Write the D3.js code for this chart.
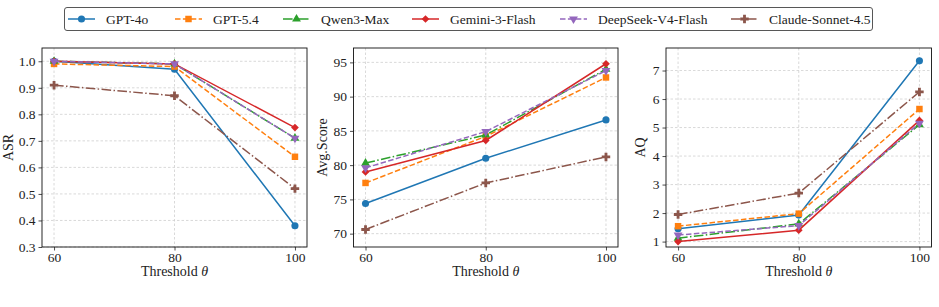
<!DOCTYPE html>
<html>
<head>
<meta charset="utf-8">
<script src="https://cdn.jsdelivr.net/npm/d3@7"></script>
<style>
  body { margin: 0; background: #fff; }
  svg { display: block; font-family: "Liberation Serif", "Times New Roman", "DejaVu Serif", serif; }
</style>
</head>
<body>
<div id="chart"></div>
<script>
// data
const thresholds = [60, 80, 100];
const models = ["GPT-4o", "GPT-5.4", "Qwen3-Max", "Gemini-3-Flash", "DeepSeek-V4-Flash", "Claude-Sonnet-4.5"];

const asr = {
  "GPT-4o": [1.0, 0.97, 0.38],
  "GPT-5.4": [0.99, 0.98, 0.64],
  "Qwen3-Max": [1.0, 0.99, 0.71],
  "Gemini-3-Flash": [1.0, 0.99, 0.75],
  "DeepSeek-V4-Flash": [1.0, 0.99, 0.71],
  "Claude-Sonnet-4.5": [0.91, 0.87, 0.52]
};
const avgScore = {
  "GPT-4o": [74.4, 81.0, 86.6],
  "GPT-5.4": [77.4, 84.2, 92.8],
  "Qwen3-Max": [80.3, 84.4, 94.0],
  "Gemini-3-Flash": [79.0, 83.6, 94.8],
  "DeepSeek-V4-Flash": [79.6, 84.9, 93.8],
  "Claude-Sonnet-4.5": [70.6, 77.4, 81.2]
};
const aq = {
  "GPT-4o": [1.45, 1.93, 7.34],
  "GPT-5.4": [1.54, 1.98, 5.65],
  "Qwen3-Max": [1.12, 1.62, 5.10],
  "Gemini-3-Flash": [1.0, 1.4, 5.25],
  "DeepSeek-V4-Flash": [1.23, 1.56, 5.15],
  "Claude-Sonnet-4.5": [1.95, 2.70, 6.25]
};

const asrTicks = [0.3, 0.4, 0.5, 0.6, 0.7, 0.8, 0.9, 1.0];
const scoreTicks = [70, 75, 80, 85, 90, 95];
const aqTicks = [1, 2, 3, 4, 5, 6, 7];

// styles
const colors = ["#1f77b4", "#ff7f0e", "#2ca02c", "#d62728", "#9467bd", "#8c564b"];
const dashes = ["none", "5.5,2.4", "9.6,2.4,1.5,2.4", "none", "5.5,2.4", "9.6,2.4,1.5,2.4"];
const symbols = [
  { type: d3.symbolCircle, size: 40, rot: 0 },
  { type: d3.symbolSquare, size: 42, rot: 0 },
  { type: d3.symbolTriangle, size: 34, rot: 0 },
  { type: d3.symbolSquare, size: 30, rot: 45 },
  { type: d3.symbolTriangle, size: 34, rot: 180 },
  { type: d3.symbolCross, size: 40, rot: 0 }
];

const W = 939, H = 307;
const svg = d3.select("#chart").append("svg").attr("width", W).attr("height", H);

const panels = [
  { data: asr, label: "ASR", ticks: asrTicks, domain: [0.3, 1.05], fmt: d3.format(".1f"), x0: 42, x1: 307, labOff: 29 },
  { data: avgScore, label: "Avg.Score", ticks: scoreTicks, domain: [68.05, 97.1], fmt: d3.format("d"), x0: 353.5, x1: 618, labOff: 27 },
  { data: aq, label: "AQ", ticks: aqTicks, domain: [0.81, 7.79], fmt: d3.format("d"), x0: 666, x1: 931.5, labOff: 21 }
];
const plotTop = 48, plotBottom = 247;

panels.forEach(function (p) {
  const g = svg.append("g");
  const x = d3.scaleLinear().domain([58, 102]).range([p.x0, p.x1]);
  const y = d3.scaleLinear().domain(p.domain).range([plotBottom, plotTop]);

  // grid
  g.append("g").selectAll("line").data(thresholds).enter().append("line")
    .attr("x1", d => x(d)).attr("x2", d => x(d))
    .attr("y1", plotTop).attr("y2", plotBottom)
    .attr("stroke", "#cfcfcf").attr("stroke-width", 0.8).attr("stroke-dasharray", "2.5,2");
  g.append("g").selectAll("line").data(p.ticks).enter().append("line")
    .attr("x1", p.x0).attr("x2", p.x1)
    .attr("y1", d => y(d)).attr("y2", d => y(d))
    .attr("stroke", "#cfcfcf").attr("stroke-width", 0.8).attr("stroke-dasharray", "2.5,2");

  // axes
  const xa = g.append("g").attr("transform", "translate(0," + plotBottom + ")")
    .call(d3.axisBottom(x).tickValues(thresholds).tickSize(3.5).tickSizeOuter(0).tickPadding(2));
  const ya = g.append("g").attr("transform", "translate(" + p.x0 + ",0)")
    .call(d3.axisLeft(y).tickValues(p.ticks).tickFormat(p.fmt).tickSize(3.5).tickSizeOuter(0).tickPadding(3));
  [xa, ya].forEach(a => {
    a.select(".domain").remove();
    a.selectAll("text").attr("font-size", "13.5px").attr("fill", "#222")
      .attr("font-family", "'Liberation Serif', 'Times New Roman', serif");
    a.selectAll("line").attr("stroke", "#222").attr("stroke-width", 0.8);
  });

  // lines and markers
  models.forEach(function (m, i) {
    const pts = thresholds.map((t, j) => [t, p.data[m][j]]);
    g.append("path")
      .datum(pts)
      .attr("fill", "none")
      .attr("stroke", colors[i])
      .attr("stroke-width", 1.5)
      .attr("stroke-dasharray", dashes[i])
      .attr("d", d3.line().x(d => x(d[0])).y(d => y(d[1])));
    const s = symbols[i];
    g.append("g").selectAll("path").data(pts).enter().append("path")
      .attr("d", d3.symbol().type(s.type).size(s.size))
      .attr("transform", d => "translate(" + x(d[0]) + "," + y(d[1]) + ") rotate(" + s.rot + ")")
      .attr("fill", colors[i]);
  });

  // frame
  g.append("rect")
    .attr("x", p.x0).attr("y", plotTop)
    .attr("width", p.x1 - p.x0).attr("height", plotBottom - plotTop)
    .attr("fill", "none").attr("stroke", "#111").attr("stroke-width", 0.9);

  // labels
  const xl = g.append("text")
    .attr("x", (p.x0 + p.x1) / 2).attr("y", 276)
    .attr("text-anchor", "middle").attr("font-size", "14px").attr("fill", "#222");
  xl.append("tspan").text("Threshold ");
  xl.append("tspan").attr("font-style", "italic").text("θ");

  g.append("text")
    .attr("transform", "translate(" + (p.x0 - p.labOff) + "," + ((plotTop + plotBottom) / 2) + ") rotate(-90)")
    .attr("text-anchor", "middle").attr("font-size", "14px").attr("fill", "#222")
    .text(p.label);
});

// legend
const legend = svg.append("g");
legend.append("rect")
  .attr("x", 64.5).attr("y", 7.5).attr("width", 808).attr("height", 23).attr("rx", 2.5)
  .attr("fill", "#fff").attr("stroke", "#444").attr("stroke-width", 0.9);
const legX = [68, 175, 283, 412, 560, 731];
models.forEach(function (m, i) {
  const lg = legend.append("g").attr("transform", "translate(" + legX[i] + ",19)");
  lg.append("line").attr("x1", 0).attr("x2", 27).attr("y1", 0).attr("y2", 0)
    .attr("stroke", colors[i]).attr("stroke-width", 1.5).attr("stroke-dasharray", dashes[i]);
  const s = symbols[i];
  lg.append("path").attr("d", d3.symbol().type(s.type).size(s.size))
    .attr("transform", "translate(13.5,0) rotate(" + s.rot + ")")
    .attr("fill", colors[i]);
  lg.append("text").attr("x", 38).attr("y", 0).attr("dy", "0.35em")
    .attr("font-size", "13.5px").attr("fill", "#222").text(m);
});
</script>
</body>
</html>
